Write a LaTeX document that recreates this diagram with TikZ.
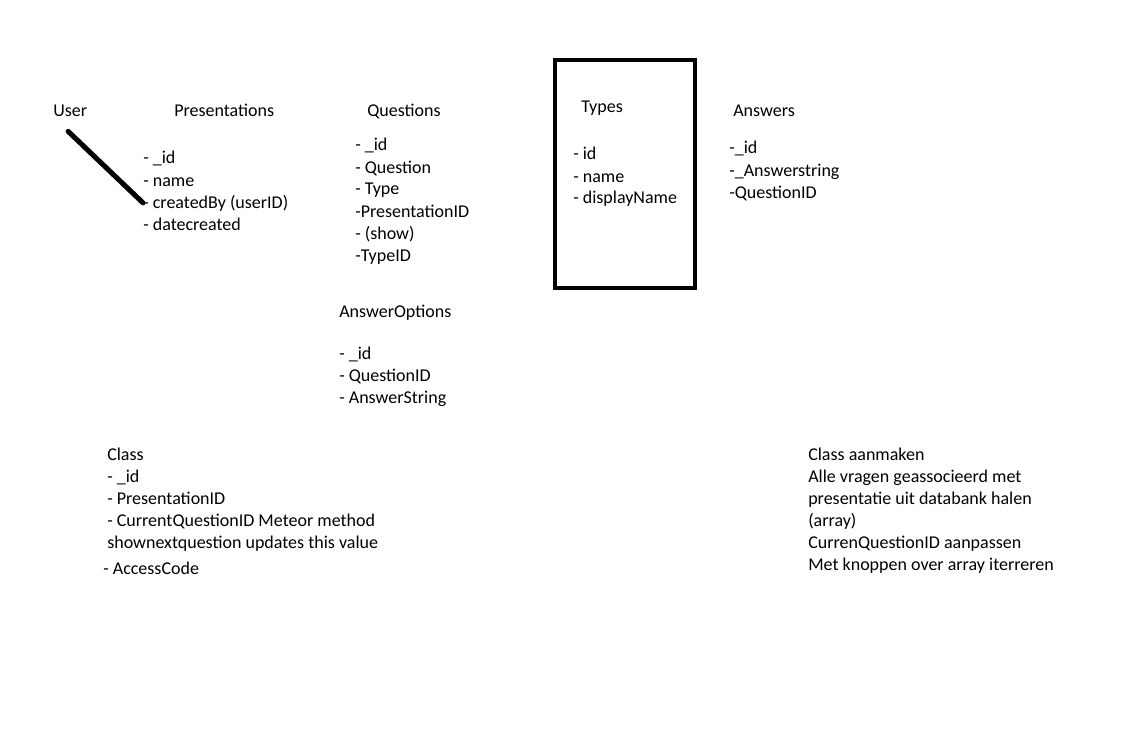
\documentclass[tikz,border=0pt]{standalone}
\usepackage{fontspec}
\setmainfont{Carlito}
\begin{document}
\begin{tikzpicture}[x=0.75pt, y=-0.75pt,
		lbl/.style={inner sep=0pt, anchor=base west,
			font=\fontsize{13.5pt}{16.5pt}\selectfont}]
			\useasboundingbox (0, 0) rectangle (1127, 731);
			
			% Koppen
			\node[lbl] (user) at (53, 117) {User};
			\node[lbl] (pres) at (174, 117) {Presentations};
			\node[lbl] (quest) at (367, 117) {Questions};
			\node[lbl] (types) at (581, 113) {Types};
			\node[lbl] (answ) at (733, 117) {Answers};
			\node[lbl] (aopt) at (339, 317) {AnswerOptions};
			
			% Velden
			\foreach \t [count=\i] in {- \_id, - name, - createdBy (userID), - datecreated}
				\node[lbl] (pres-\i) at (143, 142+22*\i) {\t};
			\foreach \t [count=\i] in {- \_id, - Question, - Type, -PresentationID, - (show), -TypeID}
				\node[lbl] (quest-\i) at (355, 129+22*\i) {\t};
			\foreach \t [count=\i] in {- id, - name, - displayName}
				\node[lbl] (types-\i) at (573, 138+22*\i) {\t};
			\foreach \t [count=\i] in {-\_id, -\_Answerstring, -QuestionID}
				\node[lbl] (answ-\i) at (729, 132+22*\i) {\t};
			\foreach \t [count=\i] in {- \_id, - QuestionID, - AnswerString}
				\node[lbl] (aopt-\i) at (339, 337+22*\i) {\t};
			
			% Class en notities
			\foreach \t [count=\i] in {Class, - \_id, - PresentationID, - CurrentQuestionID Meteor method, shownextquestion updates this value}
				\node[lbl] (class-\i) at (107, 438+22*\i) {\t};
			\node[lbl] (code) at (103, 574) {- AccessCode};
			\foreach \t [count=\i] in {Class aanmaken, Alle vragen geassocieerd met, presentatie uit databank halen, (array), CurrenQuestionID aanpassen, Met knoppen over array iterreren}
				\node[lbl] (note-\i) at (808, 438+22*\i) {\t};
			
			% Kader rond Types
			\draw[line width=3pt] (555, 60) rectangle (695, 288);
			
			% Verbinding User -- createdBy
			\draw[line width=3.8pt, line cap=round] ([shift={(-2, 14)}]user.south) -- (pres-3.west);
		\end{tikzpicture}
\end{document}
